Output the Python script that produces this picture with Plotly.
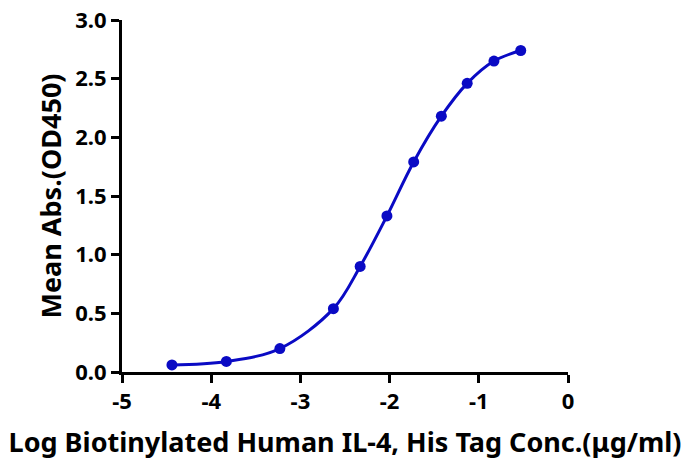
import plotly.graph_objects as go

log_conc = [-4.44, -3.83, -3.23, -2.63, -2.33, -2.03, -1.73, -1.42, -1.13, -0.83, -0.53]
mean_abs = [0.06, 0.09, 0.20, 0.54, 0.90, 1.33, 1.79, 2.18, 2.46, 2.65, 2.74]

x_ticks = [-5, -4, -3, -2, -1, 0]
y_ticks = [0.0, 0.5, 1.0, 1.5, 2.0, 2.5, 3.0]

color = "#0a0ac4"
font = "Noto Sans"

fig = go.Figure()
fig.add_trace(go.Scatter(
    x=log_conc, y=mean_abs, mode="lines+markers",
    line=dict(color=color, width=3, shape="spline", smoothing=1.0),
    marker=dict(color=color, size=11),
    showlegend=False,
))

fig.update_layout(
    width=683, height=463,
    margin=dict(l=122, r=115, t=20, b=91),
    plot_bgcolor="white", paper_bgcolor="white",
    font=dict(family=font, color="black", weight=700),
)
fig.update_xaxes(
    range=[-5, 0], tickvals=x_ticks, ticktext=[f"<b>{v}</b>" for v in x_ticks],
    automargin=False,
    showgrid=False, zeroline=False, showline=True, linecolor="black", linewidth=3,
    ticks="outside", ticklen=8, tickwidth=3, tickcolor="black",
    tickfont=dict(size=22),
    title=dict(text="<b>Log Biotinylated Human IL-4, His Tag Conc.(μg/ml)</b>",
               font=dict(size=27), standoff=19),
)
fig.update_yaxes(
    range=[0, 3], tickvals=y_ticks, ticktext=[f"<b>{v:.1f}</b>" for v in y_ticks],
    automargin=False,
    showgrid=False, zeroline=False, showline=True, linecolor="black", linewidth=3,
    ticks="outside", ticklen=8, tickwidth=3, tickcolor="black",
    tickfont=dict(size=22),
    title=dict(text="<b>Mean Abs.(OD450)</b>", font=dict(size=27), standoff=6),
)

fig.write_html("out.html", config={"displayModeBar": False},
               post_script="document.body.style.margin='0';")
